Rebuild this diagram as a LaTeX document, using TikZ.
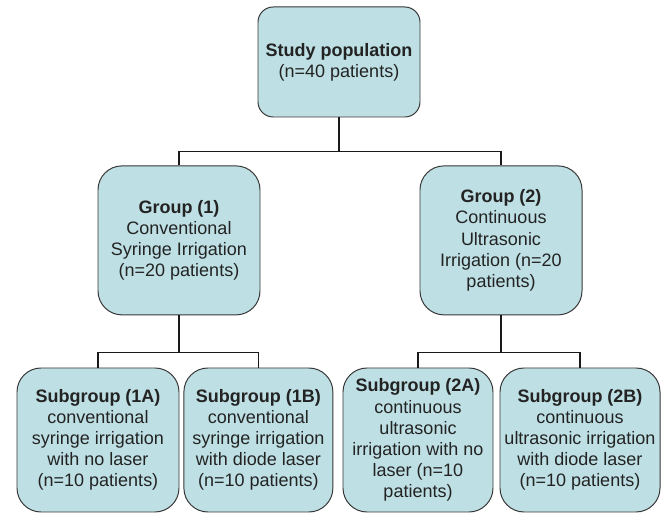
\documentclass[tikz,border=0pt]{standalone}
\usepackage{fontspec}
\setmainfont{Liberation Sans}
\usepackage{tikz}

\definecolor{boxfill}{RGB}{190,224,228}
\definecolor{boxline}{RGB}{55,55,55}
\definecolor{txtgray}{RGB}{35,35,35}

\begin{document}
\begin{tikzpicture}[
  font=\fontsize{12.8}{15}\selectfont,
  group/.style={rectangle, rounded corners=0.6cm, draw=boxline, fill=boxfill,
                line width=0.7pt, align=center, inner sep=2pt, text=txtgray},
  root/.style={group, rounded corners=0.38cm},
  link/.style={draw=black!90, line width=0.8pt},
]

% --- fixed bounding box (white background) ---
\fill[white] (0,0) rectangle (16.6,12.85);
\useasboundingbox (0,0) rectangle (16.6,12.85);

% ============================ NODES =================================
% Level 1 -- whole population
\node[root, minimum width=4.05cm, minimum height=2.75cm] (pop)
  at (8.475,11.3)
  {\textbf{Study population}\\(n=40 patients)};

% Level 2 -- the two irrigation groups
\node[group, minimum width=4.05cm, minimum height=3.725cm] (grpone)
  at (4.475,6.84)
  {\textbf{Group (1)}\\Conventional\\Syringe Irrigation\\(n=20 patients)};
\node[group, minimum width=4.05cm, minimum height=3.725cm] (grptwo)
  at (12.525,6.84)
  {\textbf{Group (2)}\\Continuous\\Ultrasonic\\Irrigation (n=20\\patients)};

% Level 3 -- subgroups
\node[group, minimum width=4.05cm, minimum height=3.6cm] (subonea)
  at (2.45,1.85)
  {\textbf{Subgroup (1A)}\\conventional\\syringe irrigation\\with no laser\\(n=10 patients)};
\node[group, minimum width=3.725cm, minimum height=3.6cm] (suboneb)
  at (6.46,1.85)
  {\textbf{Subgroup (1B)}\\conventional\\syringe irrigation\\with diode laser\\(n=10 patients)};
\node[group, minimum width=3.75cm, minimum height=3.6cm] (subtwoa)
  at (10.45,1.85)
  {\textbf{Subgroup (2A)}\\continuous\\ultrasonic\\irrigation with no\\laser (n=10\\patients)};
\node[group, minimum width=4.0cm, minimum height=3.6cm] (subtwob)
  at (14.5,1.85)
  {\textbf{Subgroup (2B)}\\continuous\\ultrasonic irrigation\\with diode laser\\(n=10 patients)};

% ============================ EDGES =================================
\draw[link] (pop.south) -- ++(0,-0.85) -| (grpone.north);
\draw[link] (pop.south) -- ++(0,-0.85) -| (grptwo.north);

\draw[link] (grpone.south) -- ++(0,-0.925) -| (subonea.north);
\draw[link] (grpone.south) -- ++(0,-0.925) -| (suboneb.north);

\draw[link] (grptwo.south) -- ++(0,-0.925) -| (subtwoa.north);
\draw[link] (grptwo.south) -- ++(0,-0.925) -| (subtwob.north);

\end{tikzpicture}
\end{document}
